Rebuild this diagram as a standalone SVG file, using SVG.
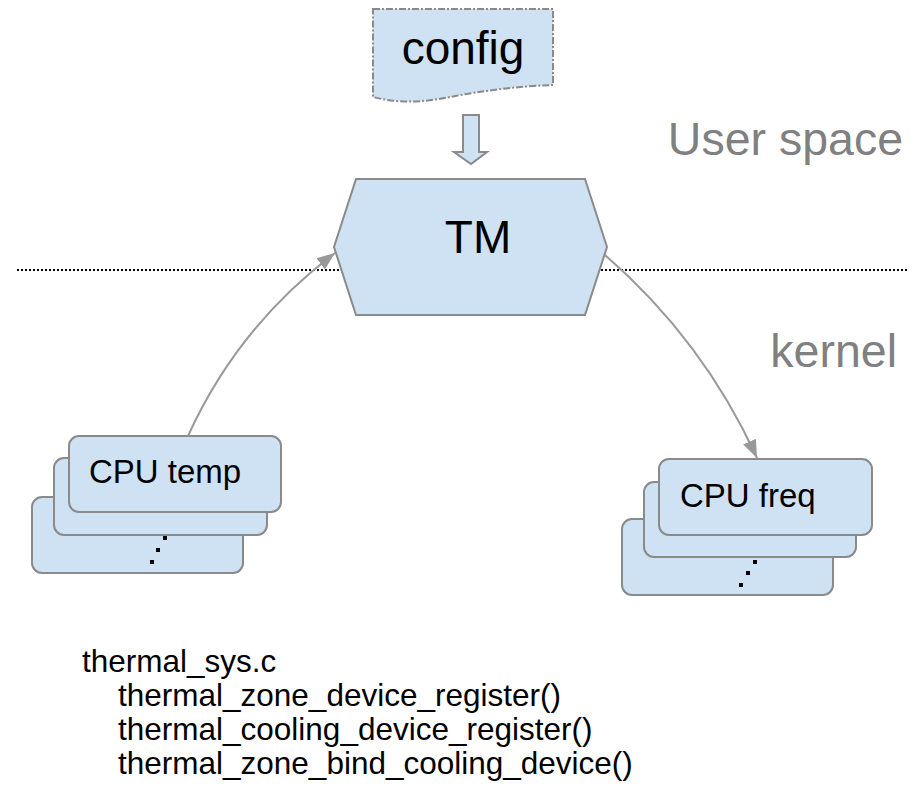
<svg xmlns="http://www.w3.org/2000/svg" width="924" height="785" viewBox="0 0 924 785">
  <style>
    .shape { fill: #cfe2f3; stroke: #8a8a8a; stroke-width: 2; }
    .label { font-family: "Liberation Sans", Arial, sans-serif; fill: #000; }
    .big { font-size: 46px; }
    .box-label { font-size: 33px; }
    .layer { font-family: "Liberation Sans", Arial, sans-serif; font-size: 46.5px; fill: #808080; text-anchor: end; }
    .code { font-family: "Liberation Sans", Arial, sans-serif; font-size: 31.5px; fill: #000; }
    .link { fill: none; stroke: #999999; stroke-width: 2; }
    .dots { fill: #000; }
  </style>
  <defs>
    <marker id="arrow" markerUnits="userSpaceOnUse" markerWidth="20" markerHeight="14" refX="18" refY="7" orient="auto">
      <path d="M0,0 L18,7 L0,14 Z" fill="#999999"/>
    </marker>
  </defs>

  <!-- user space / kernel boundary -->
  <line x1="17" y1="270" x2="908" y2="270" stroke="#000" stroke-width="2" stroke-dasharray="2 2"/>
  <text class="layer" x="903" y="155">User space</text>
  <text class="layer" x="897" y="367">kernel</text>

  <!-- config document -->
  <g id="config">
    <path class="shape" d="M373,9 H553 V85 C520,86 480,91 450,97 C425,102 400,104 373,97 Z" stroke-dasharray="7 2 2 2"/>
    <text class="label big" x="463" y="64" text-anchor="middle">config</text>
  </g>

  <!-- config feeds TM -->
  <g id="config-arrow">
    <path class="shape" d="M463,115 H479 V152 H487 L471,164 L454,152 H463 Z"/>
  </g>

  <!-- thermal manager -->
  <g id="tm">
    <polygon class="shape" points="356,179 585,179 607,247 585,315 356,315 334,247"/>
    <text class="label big" x="478" y="253" text-anchor="middle">TM</text>
  </g>

  <!-- temperature sensors (stack) -->
  <g id="cpu-temp">
    <rect class="shape" x="32" y="497" width="211" height="76" rx="10"/>
    <rect class="shape" x="54" y="458" width="213" height="77" rx="10"/>
    <rect class="shape" x="69" y="436" width="212" height="76" rx="10"/>
    <text class="label box-label" x="89" y="483">CPU temp</text>
    <rect class="dots" x="163" y="536" width="4" height="4"/>
    <rect class="dots" x="156" y="548" width="4" height="4"/>
    <rect class="dots" x="150" y="560" width="4" height="4"/>
  </g>

  <!-- cooling devices (stack) -->
  <g id="cpu-freq">
    <rect class="shape" x="622" y="519" width="211" height="76" rx="10"/>
    <rect class="shape" x="644" y="482" width="212" height="75" rx="10"/>
    <rect class="shape" x="659" y="459" width="213" height="76" rx="10"/>
    <text class="label box-label" x="680" y="507">CPU freq</text>
    <rect class="dots" x="753" y="560" width="4" height="4"/>
    <rect class="dots" x="746" y="571" width="4" height="4"/>
    <rect class="dots" x="739" y="583" width="4" height="4"/>
  </g>

  <!-- connectors -->
  <g id="connectors">
    <path class="link" d="M188,436 Q238,326 335,253" marker-end="url(#arrow)"/>
    <path class="link" d="M605,255 Q703,340 757,458" marker-end="url(#arrow)"/>
  </g>

  <!-- source notes -->
  <g id="notes">
    <text class="code" x="82" y="672">thermal_sys.c</text>
    <text class="code" x="118" y="706">thermal_zone_device_register()</text>
    <text class="code" x="118" y="740">thermal_cooling_device_register()</text>
    <text class="code" x="118" y="774">thermal_zone_bind_cooling_device()</text>
  </g>
</svg>
